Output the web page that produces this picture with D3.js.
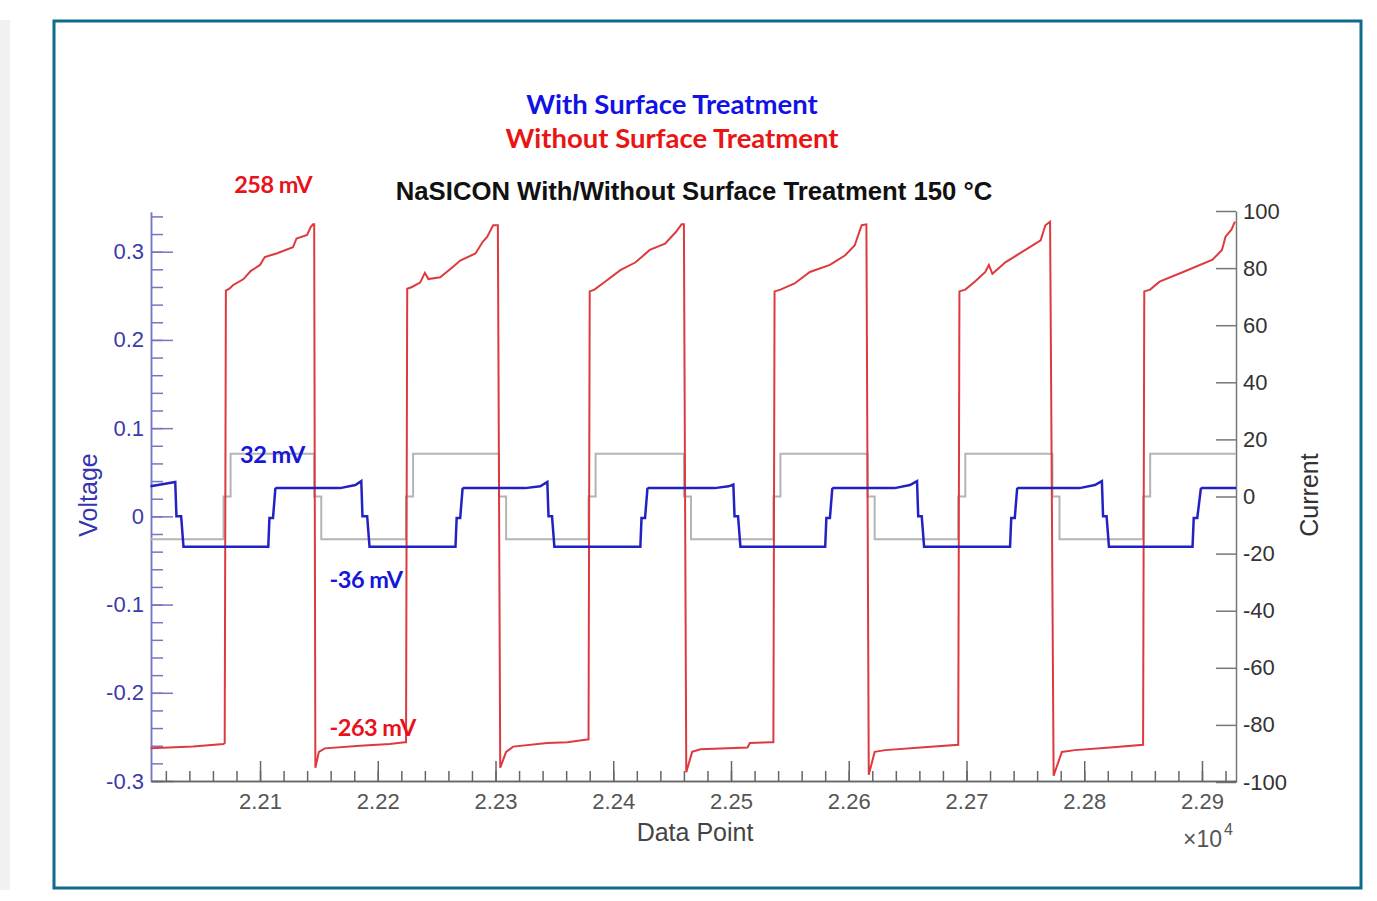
<!DOCTYPE html>
<html>
<head>
<meta charset="utf-8">
<script src="https://cdn.jsdelivr.net/npm/d3@7"></script>
<style>
  body { margin: 0; background: #fff; }
  svg { display: block; }
</style>
</head>
<body>
<svg width="1377" height="901"></svg>
<script>
// voltage without surface treatment (red), [data point, volts]
var redPoints = [
  [22007,-0.263],[22043,-0.261],[22069,-0.258],[22070,-0.257],
  [22071,0.256],[22074,0.258],[22077,0.262],[22086,0.269],[22092,0.278],[22100,0.285],[22104,0.294],[22114,0.298],[22128,0.305],[22131,0.315],[22140,0.319],[22143,0.328],[22145,0.331],[22146,0.331],
  [22147,-0.285],[22150,-0.267],[22155,-0.263],[22185,-0.260],[22210,-0.258],[22223,-0.256],[22224,-0.256],
  [22225,0.258],[22229,0.260],[22236,0.265],[22240,0.276],[22243,0.269],[22253,0.271],[22264,0.283],[22270,0.290],[22283,0.298],[22289,0.311],[22293,0.317],[22298,0.330],[22302,0.330],
  [22304,-0.285],[22309,-0.267],[22315,-0.261],[22344,-0.257],[22361,-0.256],[22378,-0.253],[22379,-0.253],
  [22380,0.255],[22384,0.257],[22393,0.266],[22406,0.279],[22419,0.288],[22431,0.302],[22444,0.309],[22453,0.322],[22458,0.331],[22460,0.331],
  [22462,-0.290],[22467,-0.267],[22474,-0.264],[22514,-0.262],[22516,-0.257],[22535,-0.256],[22536,-0.256],
  [22537,0.255],[22542,0.257],[22554,0.264],[22567,0.277],[22584,0.285],[22597,0.296],[22605,0.307],[22611,0.330],[22615,0.331],
  [22617,-0.293],[22622,-0.267],[22631,-0.265],[22661,-0.262],[22693,-0.259],
  [22694,0.255],[22699,0.257],[22707,0.266],[22716,0.277],[22719,0.285],[22722,0.275],[22733,0.288],[22750,0.302],[22763,0.313],[22767,0.330],[22771,0.334],
  [22774,-0.294],[22781,-0.267],[22792,-0.265],[22822,-0.262],[22850,-0.259],
  [22851,0.255],[22856,0.257],[22864,0.266],[22884,0.277],[22909,0.291],[22917,0.302],[22920,0.317],[22925,0.325],[22928,0.334]
];

// voltage with surface treatment (blue)
var bluePoints = [
  [22007,0.034],[22028,0.039],[22029,0.000],[22033,0.000],[22035,-0.0345],
  [22107,-0.0345],[22108,-0.002],[22111,-0.002],[22113,0.031],[22114,0.032],[22168,0.032],[22181,0.0355],[22186,0.040],
  [22187,0.000],[22191,0.000],[22193,-0.0345],
  [22266,-0.0345],[22267,-0.002],[22270,-0.002],[22272,0.031],[22273,0.032],[22325,0.032],[22338,0.034],[22344,0.039],
  [22345,0.000],[22348,0.000],[22350,-0.0345],
  [22423,-0.0345],[22424,-0.002],[22427,-0.002],[22429,0.031],[22430,0.032],[22486,0.032],[22498,0.034],[22502,0.036],
  [22503,0.000],[22506,0.000],[22508,-0.0345],
  [22580,-0.0345],[22581,-0.002],[22584,-0.002],[22586,0.031],[22587,0.032],[22639,0.032],[22652,0.0355],[22658,0.040],
  [22659,0.000],[22662,0.000],[22664,-0.0345],
  [22737,-0.0345],[22738,-0.002],[22741,-0.002],[22743,0.031],[22744,0.032],[22796,0.032],[22809,0.0355],[22815,0.040],
  [22816,0.000],[22819,0.000],[22821,-0.0345],
  [22892,-0.0345],[22893,-0.002],[22896,-0.002],[22899,0.031],[22900,0.032],[22929,0.032]
];

// applied current (gray, right axis)
var currentPoints = [
  [22007,-15],[22069,-15],[22069,0],[22075,0],[22075,15],[22146,15],[22146,0],[22152,0],[22152,-15],
  [22224,-15],[22224,0],[22230,0],[22230,15],[22303,15],[22303,0],[22309,0],[22309,-15],
  [22379,-15],[22379,0],[22385,0],[22385,15],[22460,15],[22460,0],[22466,0],[22466,-15],
  [22536,-15],[22536,0],[22542,0],[22542,15],[22616,15],[22616,0],[22622,0],[22622,-15],
  [22693,-15],[22693,0],[22699,0],[22699,15],[22773,15],[22773,0],[22779,0],[22779,-15],
  [22850,-15],[22850,0],[22856,0],[22856,15],[22929,15]
];

var xMajor = [22100,22200,22300,22400,22500,22600,22700,22800,22900];
var voltMajor = [-0.3,-0.2,-0.1,0,0.1,0.2,0.3];
var currentTicks = [-100,-80,-60,-40,-20,0,20,40,60,80,100];

var annotations = [
  { text: "258 mV", x: 22078, y: 0.367, color: "#e8121b" },
  { text: "32 mV", x: 22083, y: 0.061, color: "#1616d8" },
  { text: "-36 mV", x: 22159, y: -0.081, color: "#1616d8" },
  { text: "-263 mV", x: 22159, y: -0.249, color: "#e8121b" }
];

var svg = d3.select("svg");

// page strip and frame
svg.append("rect").attr("x", 0).attr("y", 20).attr("width", 10).attr("height", 870).attr("fill", "#f1f1f1");
svg.append("rect").attr("x", 54).attr("y", 21).attr("width", 1307).attr("height", 867)
  .attr("fill", "#fff").attr("stroke", "#0f6b8b").attr("stroke-width", 3);

var plotLeft = 151, plotRight = 1236, plotTop = 212, plotBottom = 781;

var x = d3.scaleLinear().domain([22007.4, 22928.9]).range([plotLeft, plotRight]);
var yV = d3.scaleLinear().domain([-0.3, 0.345]).range([plotBottom, plotTop]);
var yI = d3.scaleLinear().domain([-100, 100]).range([plotBottom + 1, plotTop - 1]);

var fmt = function(d) { return String(Math.round(d * 10) / 10); };
var tickFont = "22px 'Liberation Sans', Arial, sans-serif";

// left (voltage) axis, ticks pointing inward
var gLm = svg.append("g").attr("transform", "translate(" + plotLeft + ",0)")
  .call(d3.axisLeft(yV).tickValues(d3.range(-0.3, 0.35, 0.02)).tickSizeInner(-12).tickSizeOuter(0).tickFormat(""));
var gL = svg.append("g").attr("transform", "translate(" + plotLeft + ",0)")
  .call(d3.axisLeft(yV).tickValues(voltMajor).tickSizeInner(-22).tickSizeOuter(0).tickPadding(7).tickFormat(fmt));
d3.selectAll([gLm.node(), gL.node()]).selectAll("line,path").attr("stroke", "#7676c2").attr("stroke-width", 1.5);
gL.selectAll("text").attr("fill", "#3b3ba6").style("font", tickFont);

// right (current) axis
var gR = svg.append("g").attr("transform", "translate(" + plotRight + ",0)")
  .call(d3.axisRight(yI).tickValues(currentTicks).tickSizeInner(-20).tickSizeOuter(0).tickPadding(7)
    .tickFormat(function(d) { return String(d); }));
gR.selectAll("line,path").attr("stroke", "#777").attr("stroke-width", 1.5);
gR.selectAll("text").attr("fill", "#333").style("font", tickFont);

// bottom axis
var gBm = svg.append("g").attr("transform", "translate(0," + plotBottom + ")")
  .call(d3.axisBottom(x).tickValues(d3.range(22020, 22921, 20)).tickSizeInner(-10).tickSizeOuter(0).tickFormat(""));
var gB = svg.append("g").attr("transform", "translate(0," + plotBottom + ")")
  .call(d3.axisBottom(x).tickValues(xMajor).tickSizeInner(-20).tickSizeOuter(0).tickPadding(12)
    .tickFormat(function(d) { return (d / 10000).toFixed(2); }));
d3.selectAll([gBm.node(), gB.node()]).selectAll("line,path").attr("stroke", "#666").attr("stroke-width", 1.5);
gB.selectAll("text").attr("fill", "#555").style("font", tickFont);

// series
var line = d3.line().x(function(d) { return x(d[0]); });

svg.append("path").datum(currentPoints)
  .attr("d", line.y(function(d) { return yI(d[1]); }))
  .attr("fill", "none").attr("stroke", "#b4b4b4").attr("stroke-width", 2);

svg.append("path").datum(redPoints)
  .attr("d", line.y(function(d) { return yV(d[1]); }))
  .attr("fill", "none").attr("stroke", "#de3a3e").attr("stroke-width", 2);

svg.append("path").datum(bluePoints)
  .attr("d", line.y(function(d) { return yV(d[1]); }))
  .attr("fill", "none").attr("stroke", "#2222c4").attr("stroke-width", 2.5);

// annotations
svg.selectAll(".ann").data(annotations).enter().append("text")
  .attr("x", function(d) { return x(d.x); })
  .attr("y", function(d) { return yV(d.y); })
  .attr("fill", function(d) { return d.color; })
  .style("font", "bold 23.5px Lato, 'Open Sans', sans-serif")
  .style("letter-spacing", "-0.5px")
  .text(function(d) { return d.text; });

// titles
svg.append("text").attr("x", 672).attr("y", 114).attr("text-anchor", "middle")
  .attr("fill", "#1212e6").style("font", "bold 27.5px Lato, sans-serif").text("With Surface Treatment");
svg.append("text").attr("x", 672).attr("y", 148).attr("text-anchor", "middle")
  .attr("fill", "#ea1414").style("font", "bold 27.5px Lato, sans-serif").text("Without Surface Treatment");
svg.append("text").attr("x", 694).attr("y", 200).attr("text-anchor", "middle")
  .attr("fill", "#111").style("font", "bold 25.7px 'Liberation Sans', Arial, sans-serif")
  .text("NaSICON With/Without Surface Treatment 150 \u00B0C");

svg.append("text").attr("transform", "translate(97,495) rotate(-90)").attr("text-anchor", "middle")
  .attr("fill", "#3535ad").style("font", "25px 'Liberation Sans', Arial, sans-serif").text("Voltage");
svg.append("text").attr("transform", "translate(1318,495) rotate(-90)").attr("text-anchor", "middle")
  .attr("fill", "#333").style("font", "25px 'Liberation Sans', Arial, sans-serif").text("Current");
svg.append("text").attr("x", 695).attr("y", 841).attr("text-anchor", "middle")
  .attr("fill", "#444").style("font", "25px 'Liberation Sans', Arial, sans-serif").text("Data Point");

var exp = svg.append("text").attr("x", 1183).attr("y", 847).attr("fill", "#555")
  .style("font", "23px 'Liberation Sans', Arial, sans-serif");
exp.append("tspan").text("\u00D710");
exp.append("tspan").attr("dx", 2).attr("dy", -12).style("font-size", "16px").text("4");
</script>
</body>
</html>
